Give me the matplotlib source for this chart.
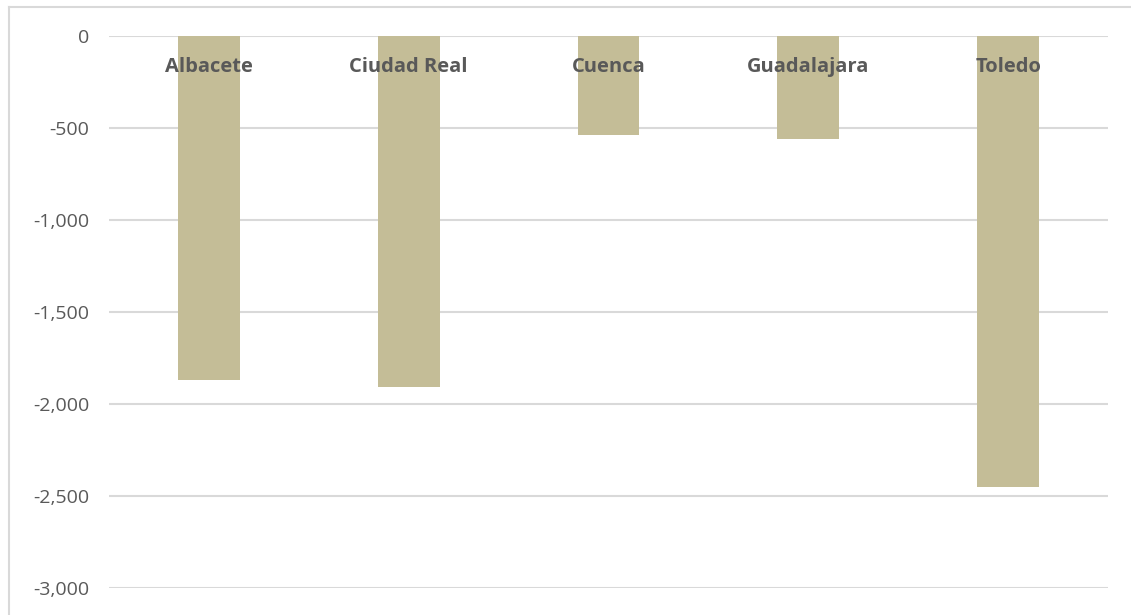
import matplotlib.pyplot as plt
from matplotlib.lines import Line2D
from matplotlib.ticker import FuncFormatter

# datos
provincias = ['Albacete', 'Ciudad Real', 'Cuenca', 'Guadalajara', 'Toledo']
valores = [-1870, -1908, -540, -560, -2452]
yticks = [0, -500, -1000, -1500, -2000, -2500, -3000]

plt.rcParams['font.family'] = ['Open Sans', 'DejaVu Sans']

fig = plt.figure(figsize=(11.31, 6.15), dpi=100)
ax = fig.add_axes([109 / 1131, 1 - 588 / 615, (1108 - 109) / 1131, (588 - 36) / 615])

x = range(len(provincias))
ax.bar(x, valores, width=0.31, color='#C4BD97', zorder=2)

# etiquetas de categoría dentro del área
for i, nombre in enumerate(provincias):
    ax.text(i, -170, nombre, ha='center', va='center', fontsize=14.5,
            fontweight='bold', color='#595959', zorder=3)

ax.set_xlim(-0.5, len(provincias) - 0.5)
ax.set_ylim(-3000, 0)
ax.set_yticks(yticks)
ax.yaxis.set_major_formatter(FuncFormatter(lambda v, p: f'{int(v):,}'))
ax.set_xticks([])
ax.tick_params(axis='y', length=0, pad=14, labelsize=14, labelcolor='#595959')
ax.grid(axis='y', color='#D9D9D9', lw=1.5, zorder=0)
for s in ax.spines.values():
    s.set_visible(False)

# borde del gráfico (solo izquierda y arriba visibles)
xl, yt = 8.5 / 1131, 1 - 6.5 / 615
fig.lines.append(Line2D([xl, xl], [0, yt], transform=fig.transFigure,
                        color='#D9D9D9', lw=1.5))
fig.lines.append(Line2D([xl, 1], [yt, yt], transform=fig.transFigure,
                        color='#D9D9D9', lw=1.5))

fig.savefig('out.png', dpi=100)
